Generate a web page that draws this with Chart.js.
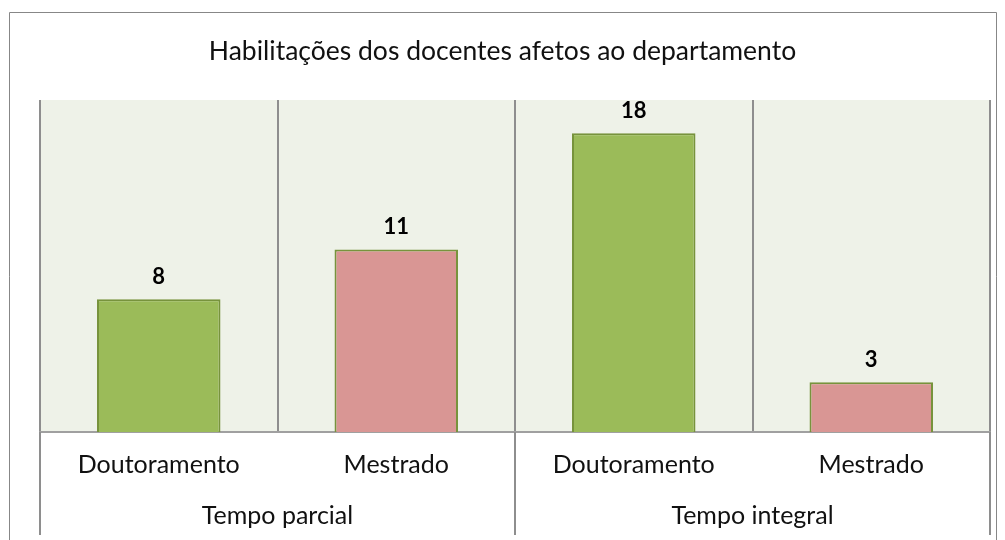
<!DOCTYPE html>
<html lang="pt">
<head>
<meta charset="utf-8">
<title>Habilitações dos docentes</title>
<script src="https://cdn.jsdelivr.net/npm/chart.js@4.4.1/dist/chart.umd.min.js"></script>
<style>
  html, body { margin: 0; padding: 0; background: #ffffff; }
  #wrap { width: 1005px; height: 540px; position: relative; }
</style>
</head>
<body>
<div id="wrap"><canvas id="grafico" width="1005" height="540"></canvas></div>
<script>
// ==========================================
// DADOS
// ==========================================
const tituloGrafico = "Habilitações dos docentes afetos ao departamento";
const categorias = ["Doutoramento", "Mestrado", "Doutoramento", "Mestrado"];
const grupos = ["Tempo parcial", "Tempo integral"];
const valores = [8, 11, 18, 3];
const coresBarras = ["#9BBB59", "#D99694", "#9BBB59", "#D99694"];

const corGrelha = "#8E8E8E";
const fonteTexto = "Lato, 'Open Sans', sans-serif";

// Fundo da área do gráfico
const fundoPlugin = {
  id: "fundo",
  beforeDraw(chart) {
    const { ctx, chartArea } = chart;
    ctx.save();
    ctx.fillStyle = "#EEF2E8";
    ctx.fillRect(chartArea.left, chartArea.top, chartArea.right - chartArea.left, chartArea.bottom - chartArea.top);
    ctx.restore();
  },
};

// Título centrado na moldura inteira (não só na área do gráfico)
const tituloPlugin = {
  id: "tituloCentrado",
  afterDraw(chart) {
    const { ctx, width } = chart;
    ctx.save();
    ctx.fillStyle = "#111111";
    ctx.font = "26.5px " + fonteTexto;
    ctx.textAlign = "center";
    ctx.textBaseline = "alphabetic";
    ctx.fillText(tituloGrafico, width / 2, 60);
    ctx.restore();
  },
};

// Moldura exterior + separadores dos grupos por baixo do eixo
const molduraPlugin = {
  id: "moldura",
  afterDraw(chart) {
    const { ctx, chartArea, width, height } = chart;
    const x = chart.scales.x;
    ctx.save();
    ctx.strokeStyle = "#878787";
    ctx.lineWidth = 1;
    ctx.beginPath();
    ctx.moveTo(9.5, height);
    ctx.lineTo(9.5, 12.5);
    ctx.lineTo(width - 8.5, 12.5);
    ctx.lineTo(width - 8.5, height);
    ctx.stroke();

    // separadores: início, meio e fim (entre "Tempo parcial" e "Tempo integral")
    const passo = (x.right - x.left) / categorias.length;
    ctx.strokeStyle = corGrelha;
    ctx.lineWidth = 2;
    [0, 2, 4].forEach((i) => {
      const px = Math.round(x.left + passo * i);
      ctx.beginPath();
      ctx.moveTo(px, chartArea.bottom);
      ctx.lineTo(px, height - 5);
      ctx.stroke();
    });
    ctx.restore();
  },
};

// Rótulos dos valores por cima das barras
const rotulosPlugin = {
  id: "rotulos",
  afterDatasetsDraw(chart) {
    const { ctx } = chart;
    const meta = chart.getDatasetMeta(0);
    ctx.save();
    ctx.fillStyle = "#000000";
    ctx.font = "bold 22px " + fonteTexto;
    ctx.textAlign = "center";
    ctx.textBaseline = "alphabetic";
    meta.data.forEach((bar, i) => {
      ctx.fillText(String(valores[i]), bar.x, bar.y - 15);
    });
    ctx.restore();
  },
};

new Chart(document.getElementById("grafico"), {
  type: "bar",
  data: {
    labels: categorias,
    datasets: [
      {
        data: valores,
        backgroundColor: coresBarras,
        borderColor: "#77933C",
        borderWidth: 2,
        categoryPercentage: 1,
        barPercentage: 0.52,
      },
    ],
  },
  options: {
    responsive: false,
    animation: false,
    layout: { padding: { left: 40, right: 15, top: 100, bottom: 0 } },
    plugins: {
      legend: { display: false },
      tooltip: { enabled: false },
      title: { display: false },
    },
    scales: {
      y: { display: false, min: 0, max: 20 },
      x: {
        offset: true,
        grid: { color: corGrelha, lineWidth: 2, offset: true, drawTicks: false },
        border: { color: "#A0A0A0", width: 2 },
        ticks: { color: "#111111", font: { family: fonteTexto, size: 25 }, padding: 18, maxRotation: 0 },
        afterFit(scale) { scale.height = 52; },
      },
      x2: {
        type: "category",
        position: "bottom",
        labels: grupos,
        offset: true,
        grid: { display: false, drawTicks: false },
        border: { display: false },
        ticks: { color: "#111111", font: { family: fonteTexto, size: 25 }, padding: 17, maxRotation: 0 },
        afterFit(scale) { scale.height = 56; },
      },
    },
  },
  plugins: [fundoPlugin, rotulosPlugin, molduraPlugin, tituloPlugin],
});
</script>
</body>
</html>
